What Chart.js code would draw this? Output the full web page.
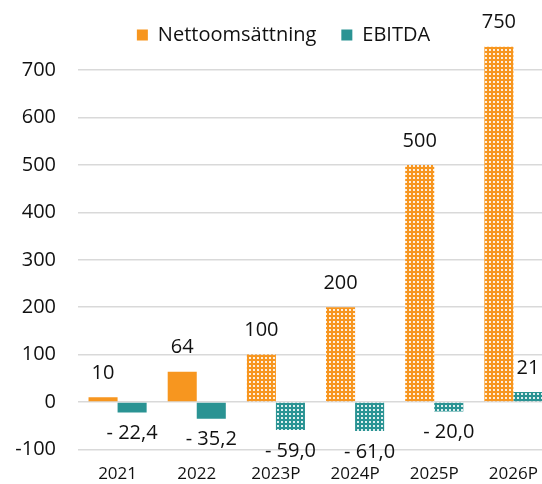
<!DOCTYPE html>
<html>
<head>
<meta charset="utf-8">
<script src="https://cdn.jsdelivr.net/npm/chart.js@4/dist/chart.umd.min.js"></script>
<style>
  html, body { margin: 0; padding: 0; background: #fff; overflow: hidden; }
  canvas { display: block; }
</style>
</head>
<body>
<canvas id="c" width="553" height="484" style="width:553px;height:484px"></canvas>
<script>
// Years; a trailing "P" marks a forecast year
const years = ['2021', '2022', '2023P', '2024P', '2025P', '2026P'];
// Net sales and EBITDA
const nettoomsattning = [10, 64, 100, 200, 500, 750];
const ebitda = [-22.4, -35.2, -59.0, -61.0, -20.0, 21];
// Value axis
const yMin = -100;
const yMax = 750;
const yStep = 100;
const yTopTick = 700;

const ORANGE = '#F7961F';
const TEAL = '#2A9393';
const TEXT = '#111111';
const FONT = '"Open Sans", "Noto Sans", sans-serif';

// Dotted fill used for forecast years
function dotted(color) {
  const t = document.createElement('canvas');
  t.width = 4; t.height = 4;
  const g = t.getContext('2d');
  g.fillStyle = color;
  g.fillRect(0, 0, 4, 4);
  g.fillStyle = 'rgba(255,255,255,0.85)';
  g.fillRect(1, 1, 2, 2);
  return document.getElementById('c').getContext('2d').createPattern(t, 'repeat');
}
function fills(color) {
  const pat = dotted(color);
  return years.map(y => y.endsWith('P') ? pat : color);
}

function labelText(v) {
  if (v < 0) return '- ' + Math.abs(v).toFixed(1).replace('.', ',');
  return String(Math.round(v));
}

// Value labels above/below each bar
const valueLabels = {
  id: 'valueLabels',
  afterDatasetsDraw(chart) {
    const ctx = chart.ctx;
    ctx.save();
    ctx.font = '20px ' + FONT;
    ctx.fillStyle = TEXT;
    ctx.textAlign = 'center';
    ctx.textBaseline = 'middle';
    chart.data.datasets.forEach((ds, di) => {
      const meta = chart.getDatasetMeta(di);
      meta.data.forEach((el, i) => {
        const v = ds.data[i];
        const y = v >= 0 ? el.y - 24 : el.y + 21;
        ctx.fillText(labelText(v), el.x, y);
      });
    });
    ctx.restore();
  }
};

// Fixed legend band height
const legendBand = {
  id: 'legendBand',
  afterInit(chart) {
    const lg = chart.legend;
    const fit = lg.fit;
    lg.fit = function () {
      fit.call(this);
      this.height = 46.5;
    };
  }
};

new Chart(document.getElementById('c'), {
  type: 'bar',
  data: {
    labels: years,
    datasets: [
      {
        label: 'Nettoomsättning',
        data: nettoomsattning,
        backgroundColor: fills(ORANGE),
        borderWidth: 0
      },
      {
        label: 'EBITDA',
        data: ebitda,
        backgroundColor: fills(TEAL),
        borderWidth: 0
      }
    ]
  },
  plugins: [valueLabels, legendBand],
  options: {
    responsive: false,
    animation: false,
    devicePixelRatio: 1,
    layout: { padding: { left: 14, right: 0, top: 0, bottom: 0 } },
    datasets: {
      bar: { categoryPercentage: 0.734, barPercentage: 1.0 }
    },
    plugins: {
      tooltip: { enabled: false },
      legend: {
        position: 'top',
        labels: {
          boxWidth: 11,
          boxHeight: 11,
          padding: 25,
          color: TEXT,
          font: { family: FONT, size: 20 }
        }
      }
    },
    scales: {
      x: {
        grid: { display: false, drawTicks: false },
        border: { display: false },
        ticks: {
          color: TEXT,
          padding: 15,
          maxRotation: 0,
          font: { family: FONT, size: 17 }
        },
        afterFit(scale) { scale.height = 34.6; }
      },
      y: {
        min: yMin,
        max: yMax,
        grid: { color: '#D9D9D9', lineWidth: 1.5, drawTicks: false },
        border: { display: false },
        ticks: {
          stepSize: yStep,
          padding: 22,
          color: TEXT,
          font: { family: FONT, size: 20 }
        },
        afterBuildTicks(scale) {
          scale.ticks = scale.ticks.filter(t => t.value <= yTopTick);
        },
        afterFit(scale) { scale.width = 64; }
      }
    }
  }
});
</script>
</body>
</html>
